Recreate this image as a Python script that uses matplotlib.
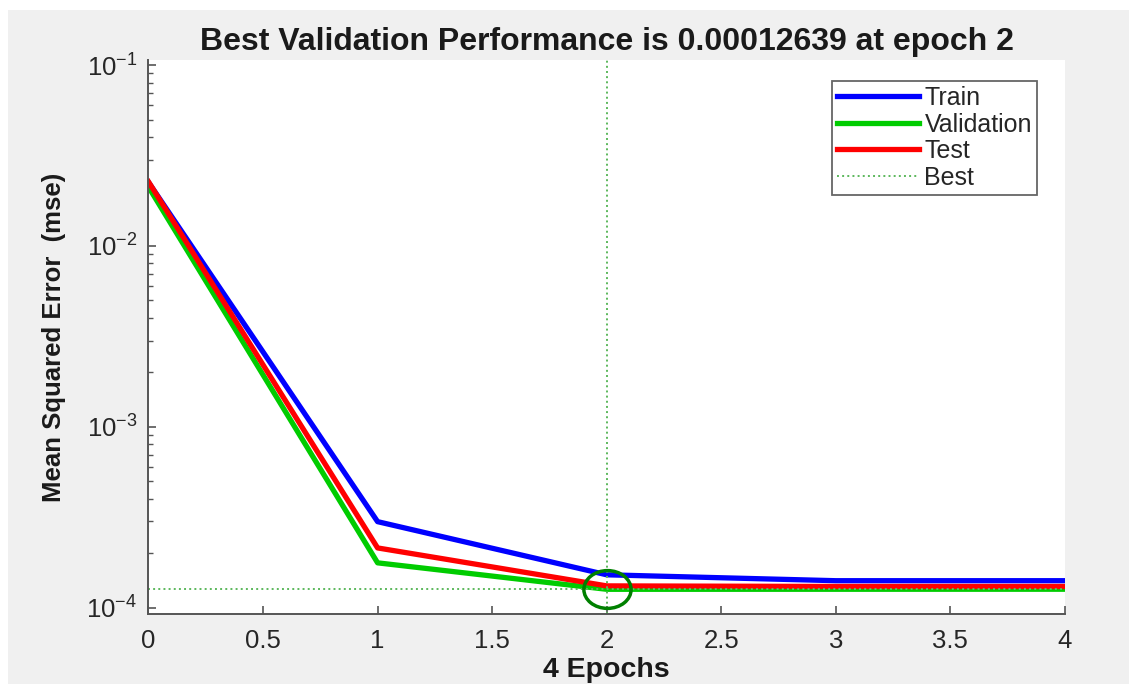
import matplotlib
matplotlib.use("Agg")
import matplotlib.pyplot as plt
from matplotlib.patches import Rectangle
from matplotlib.path import Path
from matplotlib.transforms import Affine2D
import numpy as np

plt.rcParams['font.family'] = ['Liberation Sans', 'DejaVu Sans']
plt.rcParams['mathtext.fontset'] = 'custom'
plt.rcParams['mathtext.rm'] = 'Liberation Sans'

epochs = [0, 1, 2, 3, 4]
train = [0.0225, 2.99e-4, 1.52e-4, 1.41e-4, 1.41e-4]
validation = [0.0212, 1.77e-4, 1.2639e-4, 1.2645e-4, 1.265e-4]
test = [0.02265, 2.14e-4, 1.32e-4, 1.31e-4, 1.31e-4]
best_epoch = 2
best_perf = 1.2639e-4

xticks = [0, 0.5, 1, 1.5, 2, 2.5, 3, 3.5, 4]
xticklabels = ['0', '0.5', '1', '1.5', '2', '2.5', '3', '3.5', '4']

fig = plt.figure(figsize=(11.29, 6.84), dpi=100)
fig.patch.set_facecolor('white')
fig.patches.append(Rectangle((8 / 1129, 0), 1, 1 - 10 / 684, transform=fig.transFigure,
                             facecolor='#f0f0f0', edgecolor='none', zorder=-10))

ax = fig.add_axes([0.1315, 0.1023, 0.8118, 0.81])
ax.set_facecolor('white')

ax.plot(epochs, train, color=(0, 0, 1), lw=3.8, label='Train')
ax.plot(epochs, validation, color=(0, 0.8, 0), lw=3.8, label='Validation')
ax.plot(epochs, test, color=(1, 0, 0), lw=3.8, label='Test')
ax.axvline(best_epoch, color='#5cb85c', ls=':', lw=1.4, label='Best')
ax.axhline(best_perf, color='#5cb85c', ls=':', lw=1.4)

ring = Path.unit_circle().transformed(Affine2D().scale(1.0, 0.8))
ax.plot([best_epoch], [best_perf], marker=ring, markersize=34, markerfacecolor='none',
        markeredgecolor=(0, 0.5, 0), markeredgewidth=2.5, ls='none')

ax.set_yscale('log')
ax.set_xlim(0, 4)
ax.set_ylim(10 ** -4.035, 10 ** -0.972)
ax.set_xticks(xticks)
ax.set_xticklabels(xticklabels)
ax.set_yticks([1e-4, 1e-3, 1e-2, 1e-1])

for side in ['top', 'right']:
    ax.spines[side].set_visible(False)
for side in ['left', 'bottom']:
    ax.spines[side].set_color('#555555')
    ax.spines[side].set_linewidth(1.4)

ax.tick_params(which='both', direction='in', colors='#555555', labelcolor='#262626')
ax.tick_params(which='major', length=6, width=1.2, labelsize=18.5)
ax.tick_params(which='minor', length=3.5, width=1.0)
ax.tick_params(axis='x', pad=11)
ax.tick_params(axis='y', pad=8)

ax.set_title('Best Validation Performance is 0.00012639 at epoch 2',
             fontsize=23, fontweight='bold', color='#1a1a1a', pad=7)
ax.set_ylabel('Mean Squared Error  (mse)', fontsize=18.5, fontweight='bold', color='#1a1a1a')
ax.yaxis.set_label_coords(-0.09, 0.5)
ax.set_xlabel('4 Epochs', fontsize=20.5, fontweight='bold', color='#1a1a1a', labelpad=3)

leg = ax.legend(loc='upper right', bbox_to_anchor=(0.9694, 0.962), borderaxespad=0,
                fontsize=18, handlelength=3.3, handletextpad=0.2, labelspacing=0.1,
                borderpad=0.2, fancybox=False, framealpha=1)
leg.get_frame().set_edgecolor('#666666')
leg.get_frame().set_linewidth(1.3)
for t in leg.get_texts():
    t.set_color('#262626')

fig.savefig('out.png', dpi=100)
